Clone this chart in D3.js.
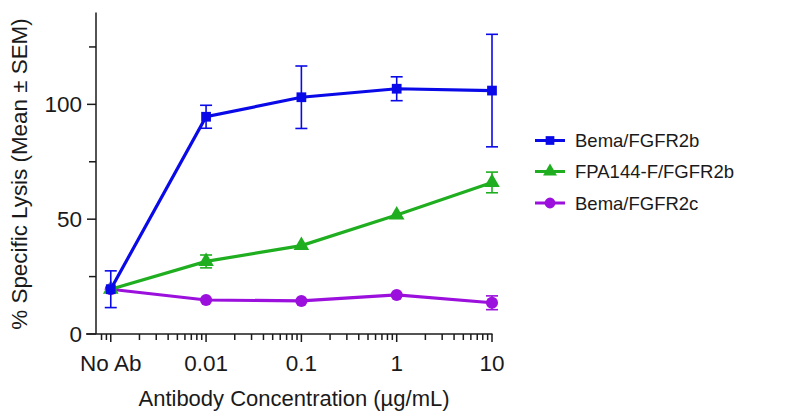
<!DOCTYPE html>
<html><head><meta charset="utf-8">
<script src="https://cdn.jsdelivr.net/npm/d3@7"></script>
<style>
body{margin:0;background:#fff;}
svg{display:block;font-family:Arial,"Liberation Sans",sans-serif;}
</style></head>
<body>
<svg id="chart" width="800" height="417"></svg>
<script>
// Data
const concentrations = [0.001, 0.01, 0.1, 1, 10];
const xTickLabels = ["No Ab", "0.01", "0.1", "1", "10"];
const seriesNames = ["Bema/FGFR2b", "FPA144-F/FGFR2b", "Bema/FGFR2c"];
const bemaB = [19.5, 94.6, 103.1, 106.8, 106.0];
const bemaBErr = [8.0, 5.0, 13.6, 5.2, 24.5];
const fpaB = [19.5, 31.6, 38.5, 51.8, 66.0];
const fpaBErr = [0, 2.8, 0, 0, 4.5];
const bemaC = [19.5, 14.8, 14.4, 17.0, 13.6];
const bemaCErr = [0, 0, 0, 0, 3.0];
const yTicks = [0, 50, 100];
const yMinorTicks = [25, 75, 125];

const colors = ["#0a0ae8", "#1fae1f", "#9b10dc"];
const shapes = [d3.symbolSquare, d3.symbolTriangle, d3.symbolCircle];
const sizes = [95, 105, 115];

const svg = d3.select("#chart");
const x = d3.scaleLog().domain([0.0007, 10]).range([96, 492]);
const y = d3.scaleLinear().domain([0, 140]).range([334, 12.5]);

const series = [
  {name: seriesNames[0], vals: bemaB, err: bemaBErr},
  {name: seriesNames[1], vals: fpaB, err: fpaBErr},
  {name: seriesNames[2], vals: bemaC, err: bemaCErr}
];

const ink = "#1a1a1a";
// axes
const g = svg.append("g");
g.append("line").attr("x1", x.range()[0]).attr("x2", x.range()[0])
  .attr("y1", y(0)).attr("y2", y(140)).attr("stroke", ink).attr("stroke-width", 1.5);
g.append("line").attr("x1", 86).attr("x2", x(10) + 0.5)
  .attr("y1", y(0)).attr("y2", y(0)).attr("stroke", ink).attr("stroke-width", 1.5);

// y ticks
yTicks.forEach(v => {
  g.append("line").attr("x1", 87).attr("x2", 96).attr("y1", y(v)).attr("y2", y(v))
    .attr("stroke", ink).attr("stroke-width", 1.5);
  g.append("text").attr("x", 82).attr("y", y(v)).attr("dy", "0.36em")
    .attr("text-anchor", "end").attr("font-size", 22.5).attr("fill", ink).text(v);
});
yMinorTicks.forEach(v => {
  g.append("line").attr("x1", 89).attr("x2", 96).attr("y1", y(v)).attr("y2", y(v))
    .attr("stroke", ink).attr("stroke-width", 1.5);
});

// x ticks: log minor ticks
const minorTicks = [];
[0.0001, 0.001, 0.01, 0.1, 1].forEach(dec => {
  for (let k = 1; k <= 9; k++) {
    const v = dec * k;
    if (v >= 0.00075 && v <= 10) minorTicks.push(v);
  }
});
minorTicks.forEach(v => {
  const isMajor = concentrations.some(c => Math.abs(c - v) / c < 1e-6);
  g.append("line").attr("x1", x(v)).attr("x2", x(v))
    .attr("y1", y(0)).attr("y2", y(0) + (isMajor ? 8 : 6))
    .attr("stroke", ink).attr("stroke-width", 1.5);
});
g.append("line").attr("x1", x(10)).attr("x2", x(10))
  .attr("y1", y(0)).attr("y2", y(0) + 8).attr("stroke", ink).attr("stroke-width", 1.5);
concentrations.forEach((c, i) => {
  g.append("text").attr("x", x(c)).attr("y", 363).attr("dy", "0.36em")
    .attr("text-anchor", "middle").attr("font-size", 22.5).attr("fill", ink).text(xTickLabels[i]);
});

// axis titles
svg.append("text").attr("x", 294).attr("y", 398).attr("dy", "0.36em")
  .attr("text-anchor", "middle").attr("font-size", 22).attr("fill", ink)
  .text("Antibody Concentration (µg/mL)");
svg.append("text").attr("transform", "translate(19,174) rotate(-90)").attr("dy", "0.36em")
  .attr("text-anchor", "middle").attr("font-size", 22.4).attr("fill", ink)
  .text("% Specific Lysis (Mean ± SEM)");

// series (draw purple, green, then blue on top)
const line = d3.line().x((d, i) => x(concentrations[i])).y(d => y(d));
[2, 1, 0].forEach(si => {
  const s = series[si];
  const sg = svg.append("g");
  sg.append("path").attr("d", line(s.vals)).attr("fill", "none")
    .attr("stroke", colors[si]).attr("stroke-width", 3.2);
  s.vals.forEach((v, i) => {
    const e = s.err[i];
    if (e > 0) {
      const cx = x(concentrations[i]);
      sg.append("line").attr("x1", cx).attr("x2", cx).attr("y1", y(v - e)).attr("y2", y(v + e))
        .attr("stroke", colors[si]).attr("stroke-width", 1.6);
      [v - e, v + e].forEach(ev => {
        sg.append("line").attr("x1", cx - 6).attr("x2", cx + 6).attr("y1", y(ev)).attr("y2", y(ev))
          .attr("stroke", colors[si]).attr("stroke-width", 1.6);
      });
    }
    sg.append("path").attr("d", d3.symbol().type(shapes[si]).size(sizes[si])())
      .attr("transform", `translate(${x(concentrations[i])},${y(v)})`)
      .attr("fill", colors[si]);
  });
});

// legend
const legY = [140.5, 171.5, 203];
series.forEach((s, si) => {
  const lg = svg.append("g").attr("transform", `translate(0,${legY[si]})`);
  lg.append("line").attr("x1", 535).attr("x2", 565).attr("y1", 0).attr("y2", 0)
    .attr("stroke", colors[si]).attr("stroke-width", 3);
  lg.append("path").attr("d", d3.symbol().type(shapes[si]).size(sizes[si] * 0.8)())
    .attr("transform", "translate(550,0)").attr("fill", colors[si]);
  lg.append("text").attr("x", 575).attr("y", 0).attr("dy", "0.36em")
    .attr("font-size", 18.5).attr("fill", ink).text(s.name);
});
</script>
</body></html>
